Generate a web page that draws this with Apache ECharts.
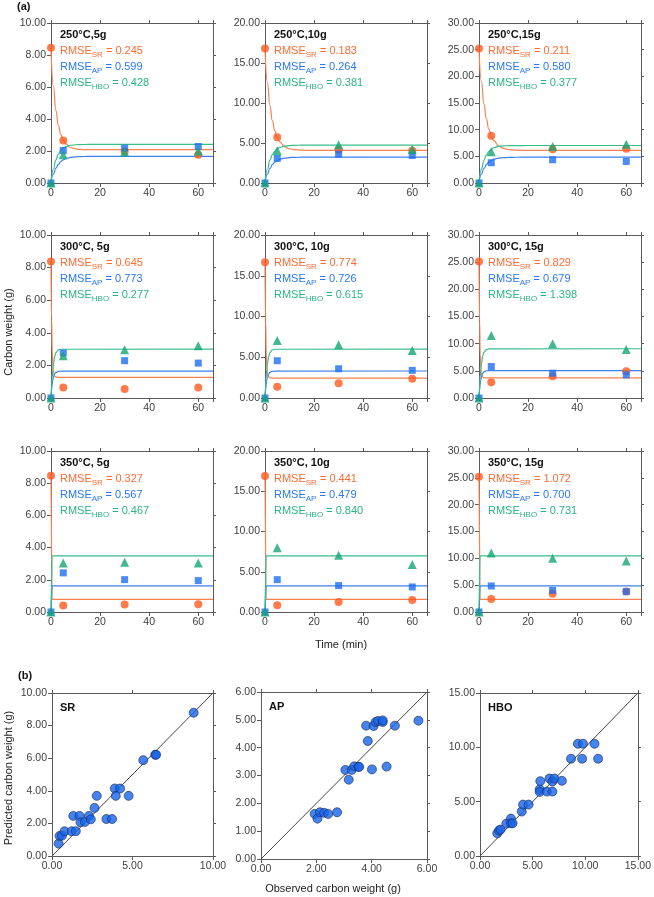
<!DOCTYPE html>
<html>
<head>
<meta charset="utf-8">
<script src="https://cdn.jsdelivr.net/npm/echarts@6/dist/echarts.min.js"></script>
<style>
  html, body { margin: 0; padding: 0; background: #fff; }
  #main { width: 654px; height: 897px; }
</style>
</head>
<body>
<div id="main"></div>
<script>
// ---------- data (a): carbon weight vs time ----------
var times = [0, 5, 30, 60];
var panelTitles = ['250°C,5g', '250°C,10g', '250°C,15g',
                   '300°C, 5g', '300°C, 10g', '300°C, 15g',
                   '350°C, 5g', '350°C, 10g', '350°C, 15g'];
var yMax = [10, 20, 30, 10, 20, 30, 10, 20, 30];
var yStep = [2, 5, 5, 2, 5, 5, 2, 5, 5];
var rmseSR = ['0.245', '0.183', '0.211', '0.645', '0.774', '0.829', '0.327', '0.441', '1.072'];
var rmseAP = ['0.599', '0.264', '0.580', '0.773', '0.726', '0.679', '0.567', '0.479', '0.700'];
var rmseHBO = ['0.428', '0.381', '0.377', '0.277', '0.615', '1.398', '0.467', '0.840', '0.731'];

var obsSR = [
  [8.46, 2.66, 1.97, 1.76], [16.8, 5.73, 4.15, 4.07], [25.2, 8.84, 6.35, 6.41],
  [8.37, 0.65, 0.55, 0.65], [16.65, 1.39, 1.8, 2.37], [25.1, 2.9, 4.0, 4.93],
  [8.46, 0.41, 0.46, 0.48], [16.89, 0.83, 1.24, 1.49], [25.2, 2.43, 3.42, 3.8]
];
var obsAP = [
  [0, 2.03, 2.18, 2.28], [0, 3.07, 3.6, 3.44], [0, 3.8, 4.36, 4.04],
  [0, 2.76, 2.29, 2.14], [0, 4.57, 3.59, 3.39], [0, 5.79, 4.56, 4.25],
  [0, 2.43, 2.01, 1.95], [0, 4.02, 3.28, 3.11], [0, 4.85, 4.04, 3.8]
];
var obsHBO = [
  [0, 1.76, 1.93, 2.0], [0, 4.02, 4.77, 4.19], [0, 5.85, 6.85, 7.28],
  [0, 2.59, 2.96, 3.2], [0, 7.06, 6.53, 5.84], [0, 11.5, 10.0, 8.93],
  [0, 3.05, 3.09, 3.05], [0, 7.97, 7.05, 5.89], [0, 11.0, 10.0, 9.52]
];

// fitted curves (one time grid per row)
var fitTimes = [
  [0, 1, 2, 3, 4, 5, 6, 8, 10, 12, 15, 20, 66],
  [0, 0.25, 0.5, 0.75, 1, 1.5, 2, 3, 4, 66],
  [0, 0.4, 66]
];
var fitSR = [
  [8.46, 6.03, 4.52, 3.59, 3.02, 2.66, 2.44, 2.22, 2.13, 2.10, 2.08, 2.08, 2.08],
  [16.8, 12.52, 9.67, 7.79, 6.54, 5.71, 5.15, 4.55, 4.28, 4.16, 4.10, 4.07, 4.07],
  [25.2, 19.03, 14.85, 12.02, 10.11, 8.81, 7.93, 6.94, 6.48, 6.28, 6.16, 6.11, 6.10],
  [8.37, 4.8, 2.9, 1.95, 1.55, 1.33, 1.28, 1.27, 1.27, 1.27],
  [16.65, 9.5, 5.6, 3.8, 3.0, 2.58, 2.48, 2.45, 2.45, 2.45],
  [25.1, 14.0, 8.0, 5.5, 4.45, 3.85, 3.73, 3.7, 3.7, 3.7],
  [8.46, 0.79, 0.79],
  [16.89, 1.58, 1.58],
  [25.2, 2.36, 2.36]
];
var fitAP = [
  [0, 0.56, 0.93, 1.17, 1.34, 1.45, 1.52, 1.60, 1.63, 1.65, 1.66, 1.66, 1.66],
  [0, 1.10, 1.81, 2.30, 2.62, 2.82, 2.98, 3.11, 3.18, 3.21, 3.23, 3.24, 3.24],
  [0, 1.65, 2.72, 3.44, 3.93, 4.22, 4.46, 4.66, 4.75, 4.80, 4.83, 4.85, 4.85],
  [0, 0.5, 0.85, 1.1, 1.28, 1.48, 1.57, 1.63, 1.65, 1.65],
  [0, 1.0, 1.7, 2.2, 2.57, 2.97, 3.15, 3.27, 3.3, 3.31],
  [0, 1.5, 2.6, 3.35, 3.9, 4.55, 4.82, 5.0, 5.04, 5.05],
  [0, 1.62, 1.62],
  [0, 3.24, 3.24],
  [0, 4.85, 4.85]
];
var fitHBO = [
  [0, 0.89, 1.45, 1.80, 2.03, 2.18, 2.27, 2.36, 2.39, 2.40, 2.41, 2.41, 2.41],
  [0, 1.75, 2.84, 3.55, 3.97, 4.26, 4.45, 4.61, 4.68, 4.71, 4.73, 4.73, 4.73],
  [0, 2.60, 4.22, 5.27, 5.90, 6.33, 6.61, 6.85, 6.96, 7.00, 7.02, 7.03, 7.03],
  [0, 0.7, 1.3, 1.75, 2.1, 2.55, 2.78, 2.95, 2.99, 3.0],
  [0, 1.4, 2.6, 3.5, 4.2, 5.1, 5.55, 5.9, 5.98, 6.0],
  [0, 2.1, 3.9, 5.3, 6.35, 7.7, 8.4, 8.9, 9.03, 9.06],
  [0, 3.49, 3.49],
  [0, 6.97, 6.97],
  [0, 10.45, 10.45]
];

// ---------- data (b): predicted vs observed ----------
var bNames = ['SR', 'AP', 'HBO'];
var bMax = [10, 6, 15];
var bXStep = [5, 2, 5];
var bYStep = [2, 1, 5];
var srObserved = [0.41, 0.47, 0.62, 0.78, 1.22, 1.48, 1.32, 1.71, 1.77, 2.04, 2.29, 2.41, 2.64, 2.78, 3.38, 3.73, 3.9, 4.23, 3.96, 4.76, 5.67, 6.41, 6.47, 8.8];
var srPredicted = [0.76, 1.23, 1.25, 1.52, 1.52, 1.52, 2.46, 2.46, 2.07, 2.09, 2.46, 2.25, 2.95, 3.69, 2.27, 2.27, 4.14, 4.14, 3.69, 3.69, 5.88, 6.21, 6.21, 8.79];
var apObserved = [1.94, 2.04, 2.13, 2.28, 2.43, 2.75, 3.05, 3.17, 3.28, 3.37, 3.52, 3.55, 3.86, 3.8, 4.01, 4.07, 4.14, 4.23, 4.4, 4.4, 4.54, 4.84, 5.69];
var apPredicted = [1.62, 1.45, 1.68, 1.66, 1.62, 1.68, 3.2, 2.85, 3.2, 3.33, 3.31, 3.31, 4.24, 4.79, 3.22, 4.78, 4.92, 4.96, 4.92, 4.98, 3.32, 4.79, 4.97];
var hboObserved = [1.64, 1.8, 1.95, 2.51, 2.94, 2.94, 3.1, 3.97, 4.09, 4.62, 5.67, 5.67, 5.73, 6.35, 6.6, 6.88, 6.88, 7.07, 7.78, 8.65, 9.3, 9.7, 9.79, 10.88, 11.22];
var hboPredicted = [2.09, 2.34, 2.43, 2.98, 3.44, 3.01, 3.01, 4.09, 4.73, 4.73, 6.12, 5.9, 6.89, 5.93, 7.13, 6.86, 5.93, 7.13, 6.92, 8.95, 10.33, 8.95, 10.33, 10.33, 8.95];
var bObserved = [srObserved, apObserved, hboObserved];
var bPredicted = [srPredicted, apPredicted, hboPredicted];

// ---------- layout / style ----------
var FONT = '"Liberation Sans", Arial, Helvetica, sans-serif';
var AXIS_COLOR = '#5a5a5a';
var LABEL_COLOR = '#404040';
var C_SR = '#ff5a1f', C_AP = '#1e6ef0', C_HBO = '#14a672';
var T_SR = '#ff6b33', T_AP = '#2a78f5', T_HBO = '#2bb583';
var L_SR = '#f9804f', L_AP = '#3d80f2', L_HBO = '#38bd8c';

var colLeft = [51, 265, 479];
var rowTop = [23, 235, 451];
var rowH = [160, 163, 161];
var panelW = 162;
var bBox = [
  { left: 52, top: 693, width: 161, height: 163 },
  { left: 261, top: 692, width: 166, height: 167 },
  { left: 480, top: 693, width: 161, height: 163 }
];

var grids = [], xAxes = [], yAxes = [], series = [], graphics = [];

function fixed2(v) { return v.toFixed(2); }

function makeAxis(gi, pos, max, step, fmt, withLabel) {
  return {
    type: 'value', gridIndex: gi, position: pos, min: 0, max: max, interval: step,
    axisLine: { show: true, onZero: false, lineStyle: { color: AXIS_COLOR, width: 1 } },
    axisTick: { show: true, inside: false, length: withLabel ? 4 : 3, lineStyle: { color: AXIS_COLOR } },
    axisLabel: { show: withLabel, formatter: fmt, color: LABEL_COLOR, fontSize: 10.5, fontFamily: FONT, margin: 5 },
    splitLine: { show: false }
  };
}

function addGrid(box, xMax, xStep, xFmt, yMaxV, yStepV, yFmt) {
  var gi = grids.length;
  grids.push({ left: box.left, top: box.top, width: box.width, height: box.height, containLabel: false });
  xAxes.push(makeAxis(gi, 'bottom', xMax, xStep, xFmt, true));
  yAxes.push(makeAxis(gi, 'left', yMaxV, yStepV, yFmt, true));
  var xi = xAxes.length - 1, yi = yAxes.length - 1;
  xAxes.push(makeAxis(gi, 'top', xMax, xStep, xFmt, false));
  yAxes.push(makeAxis(gi, 'right', yMaxV, yStepV, yFmt, false));
  return { xi: xi, yi: yi };
}

function mainStyle(c) { return { fontSize: 11, fill: c, lineHeight: 16, fontFamily: FONT }; }
function subStyle(c) { return { fontSize: 8, fill: c, lineHeight: 9, verticalAlign: 'bottom', fontFamily: FONT }; }

// ---------- panels (a) ----------
for (var i = 0; i < 9; i++) {
  var row = Math.floor(i / 3), col = i % 3;
  var box = { left: colLeft[col], top: rowTop[row], width: panelW, height: rowH[row] };
  var ax = addGrid(box, 66, 20, function (v) { return v % 20 === 0 ? String(v) : ''; },
                   yMax[i], yStep[i], fixed2);
  var ft = fitTimes[row];
  var lineDefs = [[fitSR[i], L_SR], [fitAP[i], L_AP], [fitHBO[i], L_HBO]];
  lineDefs.forEach(function (d) {
    series.push({
      type: 'line', xAxisIndex: ax.xi, yAxisIndex: ax.yi,
      data: ft.map(function (t, k) { return [t, d[0][k]]; }),
      showSymbol: false, smooth: row < 2 ? 0.5 : false, smoothMonotone: 'x',
      lineStyle: { color: d[1], width: 1.2 }, z: 2, silent: true
    });
  });
  var ptDefs = [[obsSR[i], 'circle', 8, C_SR], [obsAP[i], 'rect', 7, C_AP], [obsHBO[i], 'triangle', 9, C_HBO]];
  ptDefs.forEach(function (d, k) {
    series.push({
      type: 'scatter', xAxisIndex: ax.xi, yAxisIndex: ax.yi, clip: false,
      data: times.map(function (t, j) { return [t, d[0][j]]; }),
      symbol: d[1], symbolSize: d[2], itemStyle: { color: d[3] }, z: 3 + k
    });
  });
  graphics.push({
    type: 'text', left: box.left + 9, top: box.top + 6,
    style: {
      text: '{t|' + panelTitles[i] + '}\n' +
            '{r|RMSE}{rs|SR}{r| = ' + rmseSR[i] + '}\n' +
            '{b|RMSE}{bs|AP}{b| = ' + rmseAP[i] + '}\n' +
            '{g|RMSE}{gs|HBO}{g| = ' + rmseHBO[i] + '}',
      rich: {
        t: { fontSize: 11, fontWeight: 'bold', fill: '#111', lineHeight: 16, fontFamily: FONT },
        r: mainStyle(T_SR), rs: subStyle(T_SR),
        b: mainStyle(T_AP), bs: subStyle(T_AP),
        g: mainStyle(T_HBO), gs: subStyle(T_HBO)
      }
    },
    z: 10
  });
}

// ---------- panels (b) ----------
for (var p = 0; p < 3; p++) {
  var bb = bBox[p];
  var bax = addGrid(bb, bMax[p], bXStep[p], fixed2, bMax[p], bYStep[p], fixed2);
  series.push({
    type: 'line', xAxisIndex: bax.xi, yAxisIndex: bax.yi,
    data: [[0, 0], [bMax[p], bMax[p]]], showSymbol: false,
    lineStyle: { color: '#444', width: 1 }, z: 2, silent: true
  });
  series.push({
    type: 'scatter', xAxisIndex: bax.xi, yAxisIndex: bax.yi, clip: false,
    data: bObserved[p].map(function (v, j) { return [v, bPredicted[p][j]]; }),
    symbol: 'circle', symbolSize: 9,
    itemStyle: { color: '#1764ea', borderColor: '#1b2b55', borderWidth: 0.8 }, z: 3
  });
  graphics.push({
    type: 'text', left: bb.left + 8, top: bb.top + 9,
    style: { text: bNames[p], font: 'bold 11px ' + FONT, fill: '#111' }, z: 10
  });
}

// ---------- shared labels ----------
graphics.push(
  { type: 'text', left: 17, top: 1, style: { text: '(a)', font: 'bold 11px ' + FONT, fill: '#111' } },
  { type: 'text', left: 18, top: 670, style: { text: '(b)', font: 'bold 11px ' + FONT, fill: '#111' } },
  { type: 'text', x: 9, y: 332, rotation: Math.PI / 2,
    style: { text: 'Carbon weight (g)', font: '11px ' + FONT, fill: '#222', align: 'center', verticalAlign: 'middle' } },
  { type: 'text', x: 341, y: 645,
    style: { text: 'Time (min)', font: '11px ' + FONT, fill: '#222', align: 'center', verticalAlign: 'middle' } },
  { type: 'text', x: 9, y: 778, rotation: Math.PI / 2,
    style: { text: 'Predicted carbon weight (g)', font: '11px ' + FONT, fill: '#222', align: 'center', verticalAlign: 'middle' } },
  { type: 'text', x: 333, y: 889,
    style: { text: 'Observed carbon weight (g)', font: '11px ' + FONT, fill: '#222', align: 'center', verticalAlign: 'middle' } }
);

var myChart = echarts.init(document.getElementById('main'), null, { renderer: 'canvas' });
myChart.setOption({
  backgroundColor: '#ffffff',
  animation: false,
  textStyle: { fontFamily: FONT },
  grid: grids,
  xAxis: xAxes,
  yAxis: yAxes,
  series: series,
  graphic: graphics
});
</script>
</body>
</html>
